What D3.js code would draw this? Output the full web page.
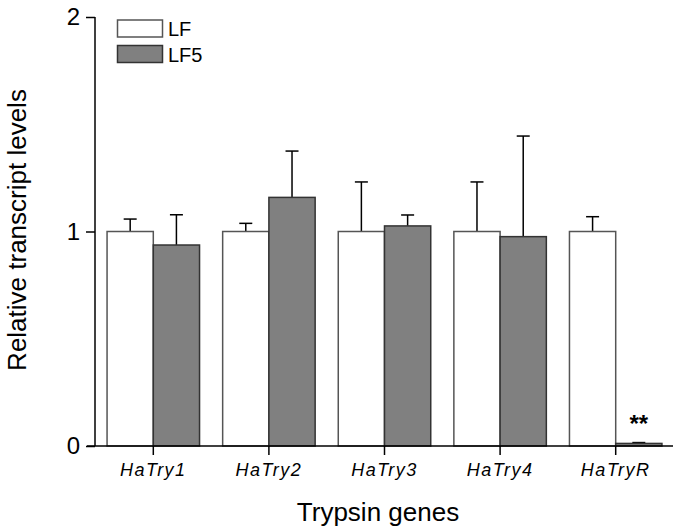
<!DOCTYPE html>
<html><head><meta charset="utf-8">
<script src="https://cdn.jsdelivr.net/npm/d3@7"></script>
<style>body{margin:0;background:#fff}svg{display:block;font-family:"Liberation Sans",Arial,sans-serif}</style>
</head><body><svg id="c" width="679" height="532"></svg>
<script>
const genes = ["HaTry1","HaTry2","HaTry3","HaTry4","HaTryR"];
const seriesNames = ["LF","LF5"];
const lfValues = [1,1,1,1,1];
const lfErrors = [0.058,0.038,0.231,0.231,0.069];
const lf5Values = [0.937,1.159,1.026,0.976,0.012];
const lf5Errors = [0.141,0.216,0.051,0.469,0.004];
const yTicks = [0,1,2];
const sigMarks = ["","","","","**"];

const svg = d3.select("#c");
const x = d3.scaleBand().domain(genes).range([95.5,673.5]).paddingInner(0.2).paddingOuter(0.1);
const y = d3.scaleLinear().domain([0,2]).range([446,17]);
const bw = x.bandwidth()/2;
const data = genes.map((g,i)=>({g, lf:lfValues[i], lfe:lfErrors[i], lf5:lf5Values[i], lf5e:lf5Errors[i], sig:sigMarks[i]}));

function errBar(cx, v, e){
  const g = svg.append("g").attr("stroke","#000").attr("stroke-width",1.5);
  g.append("line").attr("x1",cx).attr("x2",cx).attr("y1",y(v)).attr("y2",y(v+e));
  g.append("line").attr("x1",cx-6.5).attr("x2",cx+6.5).attr("y1",y(v+e)).attr("y2",y(v+e));
}
data.forEach(d=>{
  const x0 = x(d.g);
  errBar(x0+bw/2, d.lf, d.lfe);
  errBar(x0+bw*1.5, d.lf5, d.lf5e);
});
data.forEach(d=>{
  const x0 = x(d.g);
  svg.append("rect").attr("x",x0).attr("y",y(d.lf)).attr("width",bw).attr("height",y(0)-y(d.lf))
    .attr("fill","#fff").attr("stroke","#555").attr("stroke-width",1.5);
  svg.append("rect").attr("x",x0+bw).attr("y",y(d.lf5)).attr("width",bw).attr("height",y(0)-y(d.lf5))
    .attr("fill","#808080").attr("stroke","#333").attr("stroke-width",1.5);
  if(d.sig) svg.append("text").attr("x",x0+bw*1.5).attr("y",y(0)-14).attr("text-anchor","middle")
    .attr("font-size",24).attr("font-weight","bold").text(d.sig);
});

// y axis
const ya = svg.append("g").attr("transform","translate(95,0)")
  .call(d3.axisLeft(y).tickValues(yTicks).tickFormat(d3.format("d")).tickSize(9).tickPadding(6));
ya.select(".domain").attr("d",`M0,${y(2)}V${y(0)}`).attr("stroke-width",1.5);
ya.selectAll(".tick line").attr("stroke-width",1.5);
ya.selectAll("text").attr("font-size",24).attr("font-family","Liberation Sans, Arial, sans-serif").attr("fill","#000");

// x axis
const xa = svg.append("g").attr("transform",`translate(0,${y(0)})`)
  .call(d3.axisBottom(x).tickSize(9).tickPadding(8));
xa.select(".domain").attr("d",`M87,0H673`).attr("stroke-width",1.5);
xa.selectAll(".tick line").attr("stroke-width",1.5);
xa.selectAll("text").attr("font-size",18).attr("font-style","italic").attr("letter-spacing","1.5px")
  .attr("font-family","Liberation Sans, Arial, sans-serif").attr("fill","#000");

// titles
svg.append("text").attr("x",378).attr("y",521).attr("text-anchor","middle").attr("font-size",26).text("Trypsin genes");
svg.append("text").attr("transform","translate(26,230) rotate(-90)").attr("text-anchor","middle").attr("font-size",26).text("Relative transcript levels");

// legend
const fills = ["#fff","#808080"], strokes = ["#555","#333"];
seriesNames.forEach((s,i)=>{
  svg.append("rect").attr("x",117.5).attr("y",20+i*25.5).attr("width",45).attr("height",17)
    .attr("fill",fills[i]).attr("stroke",strokes[i]).attr("stroke-width",1.5);
  svg.append("text").attr("x",168).attr("y",36+i*25.5).attr("font-size",20).text(s);
});
</script></body></html>
